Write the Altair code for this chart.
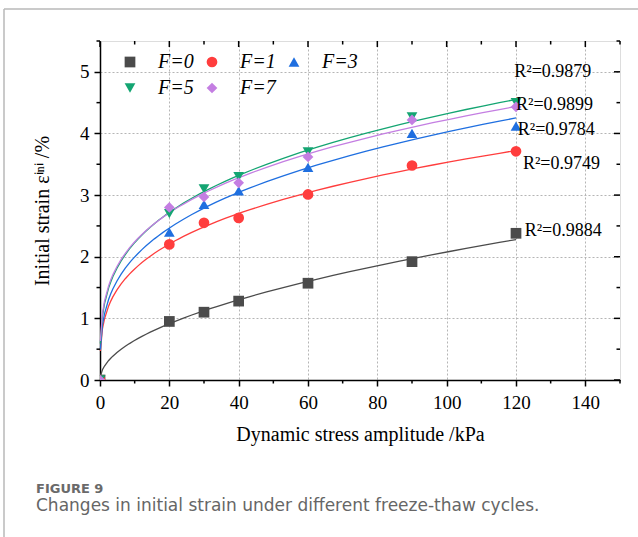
import altair as alt
import pandas as pd

# Initial strain (%) versus dynamic stress amplitude (kPa) for each freeze-thaw count
stress = [0, 20, 30, 40, 60, 90, 120]
strain_f0 = [0.0, 0.95, 1.10, 1.28, 1.57, 1.92, 2.38]
strain_f1 = [0.0, 2.20, 2.55, 2.63, 3.01, 3.48, 3.71]
strain_f3 = [0.0, 2.40, 2.85, 3.07, 3.45, 4.00, 4.12]
strain_f5 = [0.0, 2.70, 3.10, 3.30, 3.70, 4.27, 4.50]
strain_f7 = [0.0, 2.80, 2.97, 3.20, 3.62, 4.22, 4.43]

series = ["F=0", "F=1", "F=3", "F=5", "F=7"]
colors = ["#4b4b4b", "#ff3d3d", "#1f6fe0", "#14a572", "#c47ee2"]
shapes = ["square", "circle", "triangle-up", "triangle-down", "diamond"]

# Goodness-of-fit labels placed next to the curve ends
r2_values = ["0.9879", "0.9899", "0.9784", "0.9749", "0.9884"]
r2_at_x = [119.5, 120.0, 120.5, 122.0, 122.5]
r2_at_y = [5.00, 4.46, 4.06, 3.51, 2.41]

x_major = [0, 20, 40, 60, 80, 100, 120, 140]
x_minor = [10, 30, 50, 70, 90, 110, 130, 150]
y_major = [0, 1, 2, 3, 4, 5]
y_minor = [0.5, 1.5, 2.5, 3.5, 4.5, 5.5]

caption_head = "FIGURE 9"
caption_body = "Changes in initial strain under different freeze-thaw cycles."

W, H = 520, 339
SERIF = "Liberation Serif"

rows = []
for name, vals in zip(series, [strain_f0, strain_f1, strain_f3, strain_f5, strain_f7]):
    for s, v in zip(stress, vals):
        rows.append({"series": name, "stress": s, "strain": v})
df = pd.DataFrame(rows)

xscale = alt.Scale(domain=[0, 150], nice=False, zero=False)
yscale = alt.Scale(domain=[0, 5.5], nice=False, zero=False)
cscale = alt.Scale(domain=series, range=colors)
sscale = alt.Scale(domain=series, range=shapes)

x_axis = alt.Axis(
    values=x_major, format="d", title="Dynamic stress amplitude /kPa", labelFont=SERIF,
    labelFontSize=19, labelColor="black", labelPadding=7, labelFlush=False,
    titleFont=SERIF, titleFontSize=20, titleFontWeight="normal", titleColor="black",
    titlePadding=12, tickSize=6, tickWidth=1.5, tickColor="black", domainColor="black",
    domainWidth=1.5, grid=True, gridDash=[2, 2], gridColor="#b5b5b5", gridWidth=1,
)
y_axis = alt.Axis(
    values=y_major, format="d", title="Initial strain \u03b5\u2071\u207f\u2071 /%",
    labelFont=SERIF, labelFontSize=19, labelColor="black", labelPadding=5,
    labelFlush=False, titleFont=SERIF, titleFontSize=20, titleFontWeight="normal",
    titleColor="black", titlePadding=27, tickSize=6, tickWidth=1.5, tickColor="black",
    domainColor="black", domainWidth=1.5, grid=True, gridDash=[2, 2],
    gridColor="#b5b5b5", gridWidth=1,
)

base = alt.Chart(df)

# power-law fit curve for each freeze-thaw count
fits = []
for name, col in zip(series, colors):
    fits.append(
        base.transform_filter(
            (alt.datum.series == name) & (alt.datum.stress > 0)
        ).transform_regression(
            "stress", "strain", method="pow", extent=[0.1, 120]
        ).mark_line(strokeWidth=1.3, color=col).encode(
            x=alt.X("stress:Q", scale=xscale, axis=x_axis),
            y=alt.Y("strain:Q", scale=yscale, axis=y_axis),
        )
    )

points = base.mark_point(filled=True, size=115, opacity=1, clip=True).encode(
    x=alt.X("stress:Q", scale=xscale, axis=x_axis),
    y=alt.Y("strain:Q", scale=yscale, axis=y_axis),
    color=alt.Color(
        "series:N", scale=cscale,
        legend=alt.Legend(
            title=None, orient="none", legendX=20, legendY=11, columns=3,
            direction="horizontal", symbolSize=115, symbolStrokeWidth=0,
            symbolOpacity=1, labelFont=SERIF, labelFontSize=20,
            labelFontStyle="italic", labelColor="black", labelOffset=18,
            columnPadding=8, rowPadding=6, padding=0,
        ),
    ),
    shape=alt.Shape("series:N", scale=sscale),
)

r2_df = pd.DataFrame({"label": ["R\u00b2=" + v for v in r2_values], "x": r2_at_x, "y": r2_at_y})
r2_text = alt.Chart(r2_df).mark_text(
    align="left", baseline="middle", font=SERIF, fontSize=18, color="black"
).encode(
    x=alt.X("x:Q", scale=xscale, axis=x_axis),
    y=alt.Y("y:Q", scale=yscale, axis=y_axis),
    text="label:N",
)

# minor ticks on bottom/left, inward ticks on top/right
xmaj = pd.DataFrame({"t": x_major})
xmin = pd.DataFrame({"t": x_minor})
ymaj = pd.DataFrame({"t": y_major})
ymin = pd.DataFrame({"t": y_minor})
tick_style = dict(color="black", strokeWidth=1.5)

ticks = [
    alt.Chart(xmin).mark_rule(**tick_style).encode(
        x=alt.X("t:Q", scale=xscale, axis=x_axis), y=alt.value(H), y2=alt.value(H + 3.5)),
    alt.Chart(ymin).mark_rule(**tick_style).encode(
        y=alt.Y("t:Q", scale=yscale, axis=y_axis), x=alt.value(-3.5), x2=alt.value(0)),
    alt.Chart(xmaj).mark_rule(**tick_style).encode(
        x=alt.X("t:Q", scale=xscale, axis=x_axis), y=alt.value(0), y2=alt.value(6)),
    alt.Chart(xmin).mark_rule(**tick_style).encode(
        x=alt.X("t:Q", scale=xscale, axis=x_axis), y=alt.value(0), y2=alt.value(3.5)),
    alt.Chart(ymaj).mark_rule(**tick_style).encode(
        y=alt.Y("t:Q", scale=yscale, axis=y_axis), x=alt.value(W - 6), x2=alt.value(W)),
    alt.Chart(ymin).mark_rule(**tick_style).encode(
        y=alt.Y("t:Q", scale=yscale, axis=y_axis), x=alt.value(W - 3.5), x2=alt.value(W)),
]

one = pd.DataFrame({"k": [0]})
frame = [
    alt.Chart(one).mark_rule(color="#b8b8b8", strokeWidth=1.5).encode(
        x=alt.value(-96), y=alt.value(-32), y2=alt.value(H + 170)),
    alt.Chart(one).mark_rule(color="#b8b8b8", strokeWidth=1.5).encode(
        x=alt.value(-96), x2=alt.value(W + 30), y=alt.value(-32)),
]

caption = [
    alt.Chart(one).mark_text(
        align="left", baseline="alphabetic", font="DejaVu Sans", fontSize=13,
        fontWeight="bold", color="#6a6a6a"
    ).encode(x=alt.value(-64), y=alt.value(452), text=alt.value(caption_head)),
    alt.Chart(one).mark_text(
        align="left", baseline="alphabetic", font="DejaVu Sans", fontSize=17,
        color="#666666"
    ).encode(x=alt.value(-64), y=alt.value(470), text=alt.value(caption_body)),
]

chart = alt.layer(*fits, points, r2_text, *ticks, *frame, *caption).properties(
    width=W, height=H,
    padding={"left": 100, "top": 41, "right": 18, "bottom": 157},
    autosize=alt.AutoSizeParams(type="none"),
).configure_view(stroke="black", strokeWidth=1.5).configure(background="white")

chart.save("out.html", embed_options={"renderer": "svg", "actions": False})
